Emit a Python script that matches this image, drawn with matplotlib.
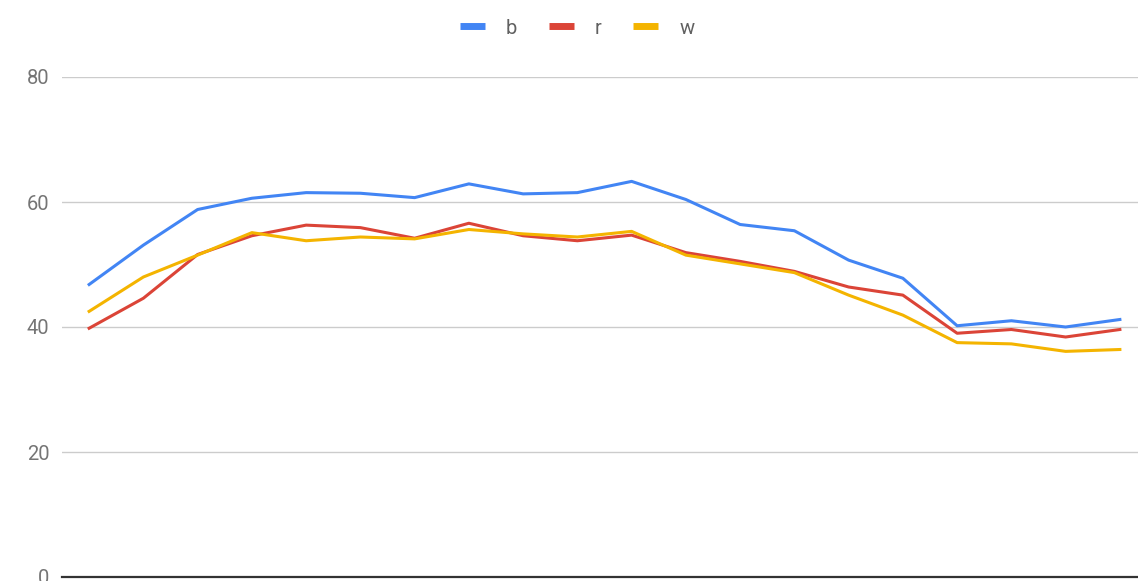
import matplotlib
matplotlib.use("Agg")
import matplotlib.pyplot as plt
from matplotlib.lines import Line2D

plt.rcParams['font.family'] = ['Roboto', 'DejaVu Sans']

# Series values for each of the 20 points
series_names = ["b", "r", "w"]
b_values = [46.8, 53.1, 58.8, 60.6, 61.5, 61.4, 60.7, 62.9, 61.3, 61.5,
            63.3, 60.4, 56.4, 55.4, 50.7, 47.8, 40.2, 41.0, 40.0, 41.2]
r_values = [39.8, 44.6, 51.6, 54.6, 56.3, 55.9, 54.2, 56.6, 54.6, 53.8,
            54.7, 51.9, 50.5, 48.9, 46.4, 45.1, 39.0, 39.6, 38.4, 39.6]
w_values = [42.5, 48.0, 51.5, 55.1, 53.8, 54.4, 54.1, 55.6, 54.9, 54.4,
            55.3, 51.5, 50.1, 48.7, 45.1, 41.9, 37.5, 37.3, 36.1, 36.4]
y_ticks = [0, 20, 40, 60, 80]

colors = ["#4285F4", "#DB4437", "#F4B400"]

W, H = 1138, 581
fig = plt.figure(figsize=(W / 100, H / 100), dpi=100)
left, right, top, bottom = 62, 1147, 77, 577
ax = fig.add_axes([left / W, (H - bottom) / H, (right - left) / W, (bottom - top) / H])

x = list(range(len(b_values)))
for vals, c in zip([b_values, r_values, w_values], colors):
    ax.plot(x, vals, color=c, linewidth=2.2, solid_joinstyle="round", zorder=3)

ax.set_xlim(-0.5, len(x) - 0.5)
ax.set_ylim(0, 80)
ax.set_yticks(y_ticks)
ax.set_xticks([])
ax.yaxis.grid(True, color="#cccccc", linewidth=1.0)
ax.set_axisbelow(True)
for s in ax.spines.values():
    s.set_visible(False)
ax.axhline(0, color="#333333", linewidth=1.6, zorder=4, clip_on=False)
ax.tick_params(axis="y", length=0, pad=9, labelsize=14.5, labelcolor="#757575")

handles = [Line2D([0], [0], color=c, linewidth=5, solid_capstyle="butt") for c in colors]
fig.legend(handles, series_names, loc="center", bbox_to_anchor=(0.5 + 8 / W, 1 - 28 / H),
           ncol=3, frameon=False, fontsize=14.5, labelcolor="#616161",
           handlelength=1.25, handletextpad=1.05, columnspacing=1.55)

fig.savefig("out.png", dpi=100, facecolor="white")
